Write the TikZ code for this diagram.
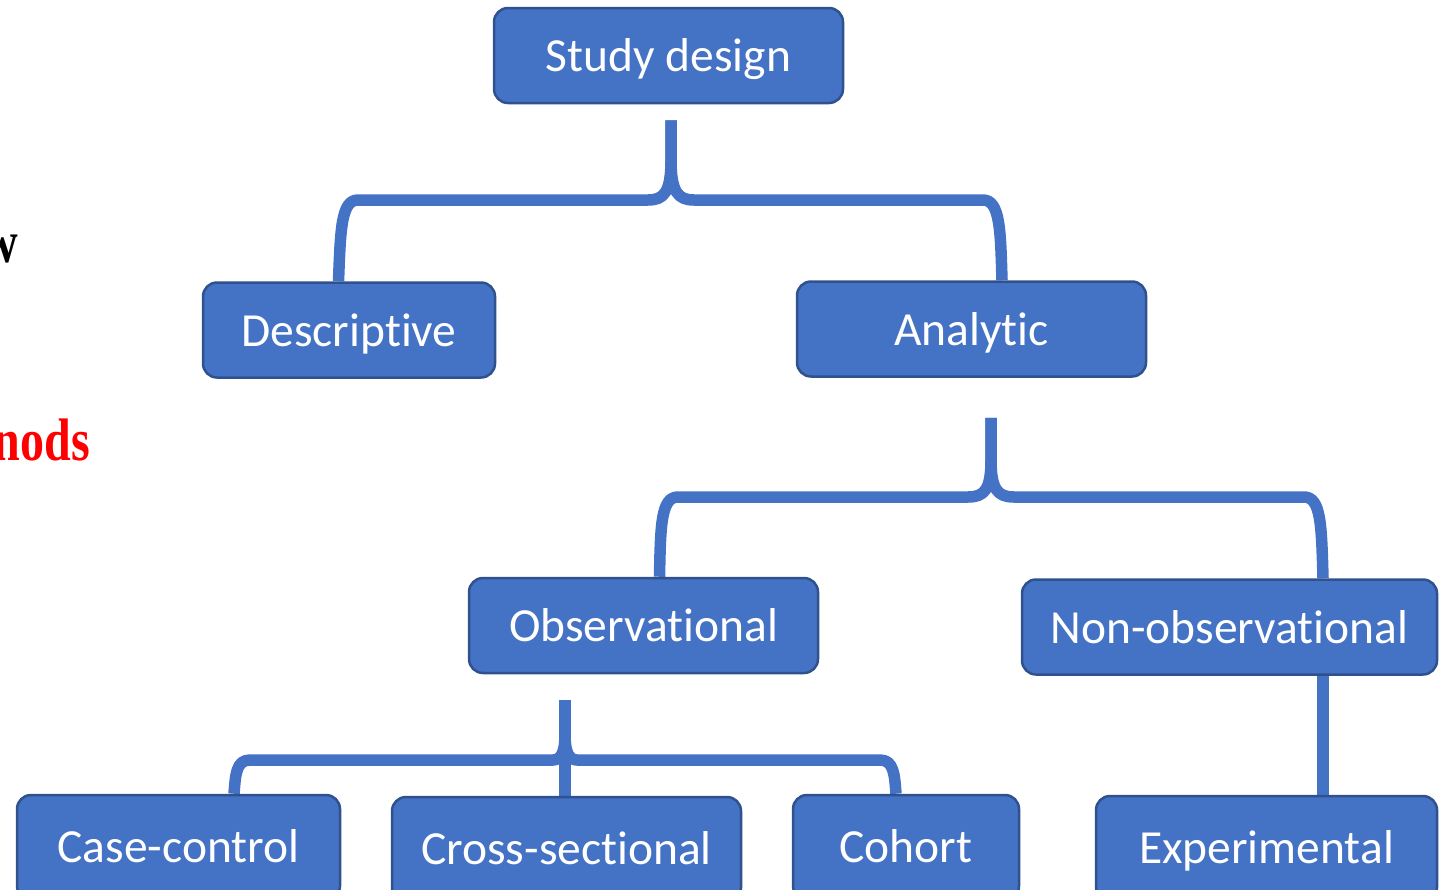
\documentclass[tikz,border=0pt]{standalone}
\usepackage{fontspec}
\setmainfont[Ligatures=NoCommon]{Carlito}
\newfontfamily\timesf{Liberation Serif}
\usetikzlibrary{backgrounds,calc}
\definecolor{boxblue}{HTML}{4472C4}
\definecolor{boxedge}{HTML}{2F528F}
\definecolor{redtxt}{HTML}{FF0000}
\newcommand{\nolig}{\kern0pt }
\begin{document}
\begin{tikzpicture}[x=1pt,y=-1pt,
  box/.style={draw=boxedge, line width=2.5pt, fill=boxblue, rounded corners=14pt,
    text=white, font=\fontsize{47.5}{56}\selectfont, inner sep=0pt,
    text height=32pt, text depth=0pt, minimum height=95pt, anchor=center},
  lowbox/.style={box, minimum height=105pt, text depth=3pt},
  link/.style={draw=boxblue, line width=11.5pt, line join=round},
  sidetext/.style={anchor=base east, inner sep=0pt, font=\timesf\bfseries\fontsize{60}{66}\selectfont}]
\useasboundingbox (0,0) rectangle (1439,889);
% side texts (cut off at the left edge)
\node[sidetext, text=black] (over) at (18,262) {\scalebox{0.8}[1]{w}};
\node[sidetext, text=redtxt] (meth) at (90,460) {\scalebox{0.8}[1]{nods}};
% boxes
\node[box, minimum width=349pt] (sd) at (668.5,55.5) {Study design};
\node[box, minimum width=292pt] (desc) at (349,330) {Descript\nolig ive};
\node[box, minimum width=349pt] (an) at (971.5,329) {Analyt\nolig ic};
\node[box, minimum width=349pt] (obs) at (643.5,625.5) {Observat\nolig ional};
\node[box, minimum width=415pt] (nobs) at (1229.5,627) {Non-observat\nolig ional};
\node[lowbox, minimum width=323pt] (cc) at (178.5,847.5) {Case-control};
\node[lowbox, minimum width=349pt] (cs) at (566.5,849.5) {Cross-sect\nolig ional};
\node[lowbox, minimum width=226pt] (coh) at (906,847.5) {Cohort};
\node[lowbox, minimum width=341pt] (ex) at (1266.5,848.5) {Experimental};
% connectors
\begin{scope}[on background layer]
\coordinate (b1top) at ($(sd.south)+(2.5,16)$);
\draw[link] ([xshift=-10.5pt]desc.north) .. controls (340.5,230) and (341,200) .. (358,200)
  -- (648,200) .. controls (664,200) and (671,192) .. (671,160) -- (b1top);
\draw[link] ([xshift=30.5pt]an.north) .. controls (1000.5,230) and (1000,200) .. (983,200)
  -- (694,200) .. controls (678,200) and (671,192) .. (671,160) -- (b1top);
\coordinate (b2top) at ($(an.south)+(19.5,40)$);
\draw[link] ([xshift=16pt]obs.north) .. controls (660.5,525) and (661,497) .. (678,497)
  -- (968,497) .. controls (984,497) and (991,490) .. (991,460) -- (b2top);
\draw[link] ([xshift=93.5pt]nobs.north) .. controls (1321.5,525) and (1321,497) .. (1304,497)
  -- (1014,497) .. controls (998,497) and (991,490) .. (991,460) -- (b2top);
\coordinate (b3top) at ($(obs.south)+(-78.5,26)$);
\draw[link] ([xshift=55.5pt]cc.north) .. controls (235.5,775) and (236,760) .. (250,760)
  -- (553,760) .. controls (561,760) and (565,752) .. (565,735) -- (b3top);
\draw[link] ([xshift=-10pt]coh.north) .. controls (894.5,775) and (894,760) .. (880,760)
  -- (577,760) .. controls (569,760) and (565,752) .. (565,735) -- (b3top);
\draw[link] (b3top) -- ([xshift=-1.5pt]cs.north);
\draw[link] ([xshift=93.5pt]nobs.south) -- ([xshift=93.5pt]nobs.south |- ex.north);
\end{scope}
\end{tikzpicture}
\end{document}
